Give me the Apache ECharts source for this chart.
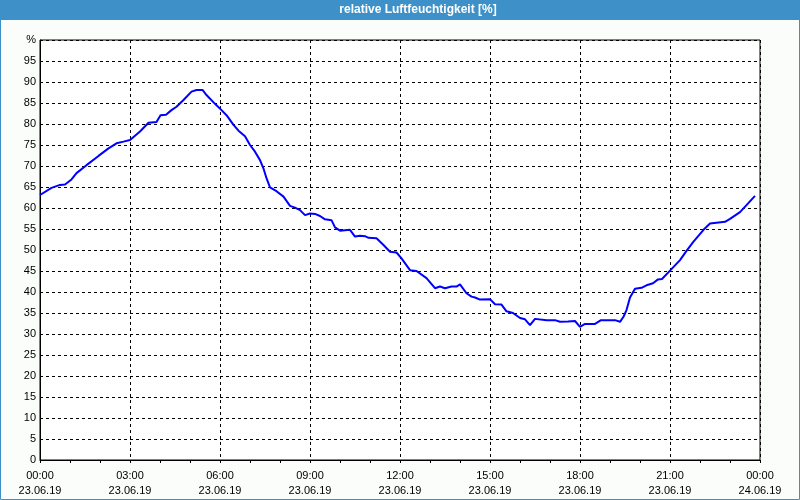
<!DOCTYPE html>
<html><head><meta charset="utf-8">
<script src="https://cdn.jsdelivr.net/npm/echarts@6/dist/echarts.min.js"></script>
<style>html,body{margin:0;padding:0;background:#fbfdfb}#c{width:800px;height:500px}</style>
</head><body><div id="c"></div>
<script>
const times = ["00:00","00:23","00:40","00:50","01:03","01:13","01:33","01:57","02:17","02:33","02:47","03:00","03:20","03:37","03:53","04:01","04:12","04:23","04:33","04:47","05:03","05:13","05:25","05:33","05:50","06:03","06:13","06:27","06:37","06:50","07:00","07:10","07:20","07:27","07:33","07:40","07:53","08:07","08:20","08:30","08:40","08:50","09:00","09:10","09:20","09:30","09:43","09:50","10:00","10:20","10:30","10:40","10:50","10:57","11:13","11:27","11:40","11:53","12:03","12:20","12:33","12:53","13:10","13:20","13:30","13:43","13:53","14:00","14:13","14:23","14:30","14:40","15:00","15:10","15:23","15:33","15:46","16:00","16:10","16:20","16:30","16:53","17:10","17:20","17:36","17:50","18:00","18:10","18:30","18:42","19:10","19:20","19:27","19:33","19:40","19:50","20:03","20:13","20:26","20:36","20:44","21:00","21:20","21:33","21:47","22:07","22:20","22:33","22:50","23:00","23:20","23:33","23:50"];
const humidity = [63.1,64.8,65.5,65.6,66.8,68.3,70.2,72.4,74.2,75.4,75.8,76.2,78.2,80.3,80.5,82.1,82.2,83.3,84.1,85.7,87.7,88.1,88.1,86.9,84.8,83.3,82.1,79.8,78.4,77.1,75.0,73.4,71.4,69.4,67.1,64.9,64.0,62.7,60.5,60.1,59.5,58.3,58.7,58.6,58.1,57.3,57.1,55.4,54.6,54.8,53.2,53.4,53.3,52.9,52.8,51.2,49.6,49.4,48.0,45.2,45.0,43.3,40.9,41.3,40.9,41.3,41.3,41.8,39.7,38.9,38.7,38.2,38.3,37.1,37.0,35.4,35.0,33.8,33.5,32.1,33.6,33.3,33.3,32.9,33.0,33.1,31.7,32.4,32.4,33.3,33.3,32.9,34.1,35.7,38.7,40.8,41.0,41.6,42.1,43.0,43.1,45.1,47.6,49.8,52.0,54.8,56.3,56.5,56.7,57.4,59.0,60.7,62.9];
const tickHours = [0,3,6,9,12,15,18,21,24];
const tickLabels = ["00:00\n23.06.19","03:00\n23.06.19","06:00\n23.06.19","09:00\n23.06.19","12:00\n23.06.19","15:00\n23.06.19","18:00\n23.06.19","21:00\n23.06.19","00:00\n24.06.19"];
const yUnit = "%";
const title = "relative Luftfeuchtigkeit [%]";

function toHours(t){const p=t.split(':');return +p[0]+(+p[1])/60;}
const data = times.map((t,i)=>[toHours(t),humidity[i]]);

const chart = echarts.init(document.getElementById('c'),null,{renderer:'canvas'});
const font = 'Liberation Sans';
chart.setOption({
  backgroundColor:'#fbfdfb',
  animation:false,
  graphic:[
    {type:'rect',shape:{x:0,y:0,width:800,height:20},style:{fill:'#3d91c8'},z:0},
    {type:'rect',shape:{x:0.5,y:0.5,width:799,height:499},style:{fill:null,stroke:'#3d91c8',lineWidth:1},z:0},
    {type:'text',x:418,y:10,style:{text:title,fill:'#ffffff',font:'bold 12px "Liberation Sans"',textAlign:'center',textVerticalAlign:'middle'},z:1}
  ],
  grid:{left:40,right:40,top:40,bottom:40,show:true,borderColor:'#000',borderWidth:1,backgroundColor:'#ffffff'},
  xAxis:{type:'value',min:0,max:24,interval:3,
    axisLine:{show:true,lineStyle:{color:'#000',width:1}},
    axisTick:{show:true,length:3,lineStyle:{color:'#000'}},
    minorTick:{show:true,splitNumber:3,length:3,lineStyle:{color:'#000'}},
    splitLine:{show:true,lineStyle:{color:'#000',type:[3,3],width:1}},
    axisLabel:{color:'#000',fontFamily:font,fontSize:11,lineHeight:15,margin:8,
      formatter:v=>{const i=tickHours.indexOf(v);return i>=0?tickLabels[i]:'';}}
  },
  yAxis:{type:'value',min:0,max:100,interval:5,
    axisLine:{show:true,lineStyle:{color:'#000',width:1}},
    axisTick:{show:false},
    splitLine:{show:true,lineStyle:{color:'#000',type:[3,3],width:1}},
    axisLabel:{color:'#000',fontFamily:font,fontSize:11,margin:4,
      formatter:v=>v===100?yUnit:String(v)}
  },
  series:[{type:'line',data:data,showSymbol:false,symbol:'none',
    lineStyle:{color:'#0000ff',width:2},z:5}]
});
</script></body></html>
